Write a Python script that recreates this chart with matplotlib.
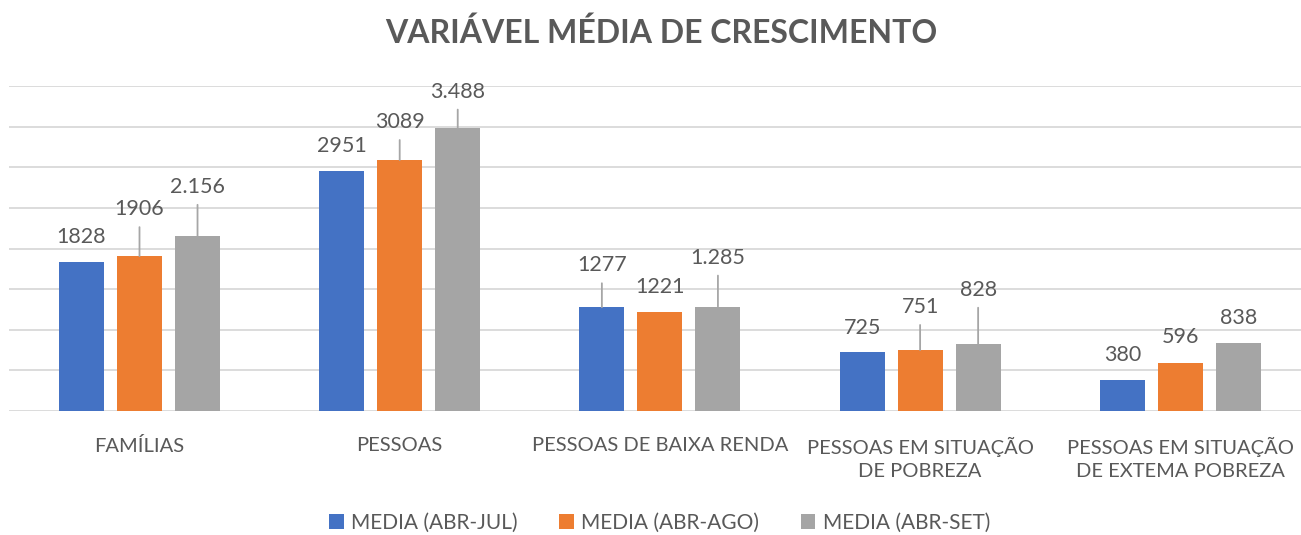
import numpy as np
import matplotlib.pyplot as plt

categories = ["FAMÍLIAS", "PESSOAS", "PESSOAS DE BAIXA RENDA",
              "PESSOAS EM SITUAÇÃO\nDE POBREZA", "PESSOAS EM SITUAÇÃO\nDE EXTEMA POBREZA"]
series_names = ["MEDIA (ABR-JUL)", "MEDIA (ABR-AGO)", "MEDIA (ABR-SET)"]
abr_jul = [1828, 2951, 1277, 725, 380]
abr_ago = [1906, 3089, 1221, 751, 596]
abr_set = [2156, 3488, 1285, 828, 838]
label_jul = ["1828", "2951", "1277", "725", "380"]
label_ago = ["1906", "3089", "1221", "751", "596"]
label_set = ["2.156", "3.488", "1.285", "828", "838"]

# label offsets above bar top (pixels) - labels were dragged in the original, with leader lines
off_jul = [25, 25, 42, 24, 25]
off_ago = [47, 38, 25, 43, 26]
off_set = [49, 36, 49, 54, 25]

colors = ["#4472C4", "#ED7D31", "#A5A5A5"]
txt = "#595959"
plt.rcParams['font.family'] = ['Lato', 'DejaVu Sans']

fig = plt.figure(figsize=(13.01, 5.35), dpi=100)
ax = fig.add_axes([9.4/1301, 1-411/535, 1301/1301, 325/535])

x = np.arange(len(categories))
w = 0.173
step = 0.223
series = [abr_jul, abr_ago, abr_set]
labels = [label_jul, label_ago, label_set]
offs = [off_jul, off_ago, off_set]

for i, vals in enumerate(series):
    pos = x + (i - 1) * step
    ax.bar(pos, vals, w, color=colors[i], label=series_names[i], zorder=3)
    for p, v, lab, o in zip(pos, vals, labels[i], offs[i]):
        ax.annotate(lab, (p, v), xytext=(0, o), textcoords='offset pixels',
                    ha='center', va='center', fontsize=15.5, color=txt)
        if o > 30:
            # leader line from bar top to label
            ax.annotate("", (p, v), xytext=(0, o - 18), textcoords='offset pixels',
                        arrowprops=dict(arrowstyle='-', color='#A6A6A6', lw=1.3,
                                        shrinkA=0, shrinkB=0))

ax.set_xlim(-0.5, 4.5)
ax.set_ylim(0, 4000)
ax.set_yticks(np.arange(0, 4001, 500))
ax.yaxis.grid(True, color='#D9D9D9', lw=1.3, zorder=0)
ax.tick_params(left=False, labelleft=False, bottom=False)
ax.set_xticks(x)
ax.set_xticklabels(categories, fontsize=14.5, color=txt, linespacing=1.45)
ax.tick_params(axis='x', pad=15)
for s in ax.spines.values():
    s.set_visible(False)

fig.text(0.508, 1-33/535, "VARIÁVEL MÉDIA DE CRESCIMENTO", ha='center', va='center',
         fontsize=23, fontweight='bold', color=txt)

leg = fig.legend(loc='center', bbox_to_anchor=(0.507, 1-523/535), ncol=3, frameon=False,
                 fontsize=15, handlelength=0.7, handleheight=0.7, handletextpad=0.35,
                 columnspacing=2.0)
for t in leg.get_texts():
    t.set_color(txt)

fig.savefig("out.png", dpi=100)
